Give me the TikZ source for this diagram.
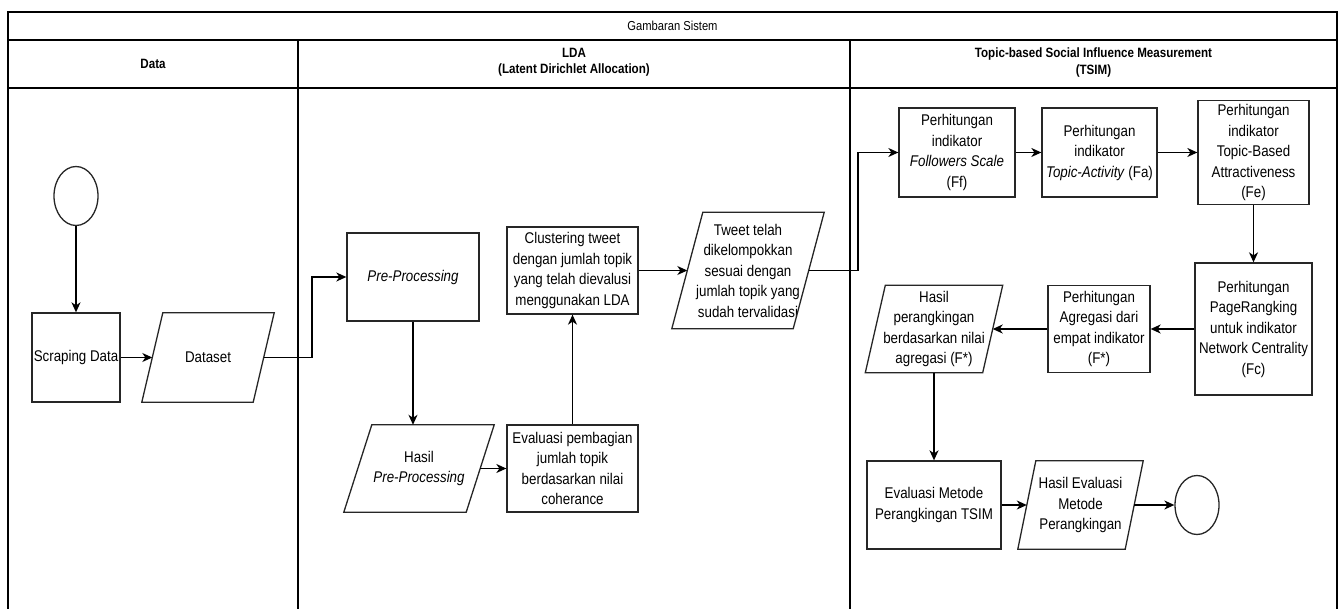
\documentclass[tikz,border=0pt]{standalone}
\usepackage{fontspec}
\setmainfont{Liberation Sans}[FakeStretch=0.86]
\usetikzlibrary{arrows.meta,shapes.geometric}
\newcommand{\drawpara}[2]{\draw[shapeline] ([xshift=-#2pt]#1.south west) -- ([xshift=#2pt]#1.north west) -- ([xshift=#2pt]#1.north east) -- ([xshift=-#2pt]#1.south east) -- cycle;}
\tikzset{
  shapeline/.style={line width=1.3pt, draw=black!85},
  procbox/.style={draw=black!85, line width=1.3pt, align=center, inner sep=1pt, font=\fontsize{15.5}{20.5}\selectfont},
  databox/.style={align=center, inner sep=1pt, font=\fontsize{15.5}{20.5}\selectfont},
  term/.style={ellipse, draw=black!85, line width=1.3pt, minimum width=44pt, minimum height=59pt, inner sep=0pt},
  arr/.style={line width=1.3pt, -{Stealth[length=10pt,width=9pt,inset=3pt]}},
  frame/.style={line width=2pt},
  thinframe/.style={line width=1.2pt},
  lanehead/.style={align=center, font=\fontsize{13.5}{16.5}\selectfont\bfseries},
  titletext/.style={font=\fontsize{13}{15}\selectfont}
}
\begin{document}
\begin{tikzpicture}[x=1pt,y=-1pt]
\useasboundingbox (0,0) rectangle (1343,609);
% frame
\draw[frame] (8,609) -- (8,12) -- (1337,12) -- (1337,609);
\draw[frame] (8,40) -- (1337,40);
\draw[thinframe] (8,88) -- (1337,88);
\draw[frame] (298,40) -- (298,609);
\draw[frame] (850,40) -- (850,609);
\node[titletext] (ttl) at (672.5,26) {Gambaran Sistem};
\node[lanehead] (hdata) at (153,64) {Data};
\node[lanehead] (hlda) at (574,62.5) {LDA\\(Latent Dirichlet Allocation)};
\node[lanehead] (htsim) at (1093.5,62.5) {Topic-based Social Influence Measurement\\(TSIM)};
% Data lane
\node[term] (start) at (76,196) {};
\node[procbox, minimum width=88pt, minimum height=89pt] (scrape) at (76,357.5) {Scraping Data};
\node[databox, minimum width=111pt, minimum height=89pt] (dataset) at (208,357.5) {Dataset};
\drawpara{dataset}{10.5}
% LDA lane
\node[procbox, minimum width=132pt, minimum height=88pt] (pre) at (413,277) {\textit{Pre-Processing}};
\node[databox, minimum width=122pt, minimum height=87pt] (hasilpre) at (419,468.5) {Hasil\\\textit{Pre-Processing}};
\drawpara{hasilpre}{14}
\node[procbox, minimum width=131pt, minimum height=87pt] (evalua) at (572.5,468.5) {Evaluasi pembagian\\jumlah topik\\berdasarkan nilai\\coherance};
\node[procbox, minimum width=131pt, minimum height=87pt] (cluster) at (572.5,270.5) {Clustering tweet\\dengan jumlah topik\\yang telah dievalusi\\menggunakan LDA};
\node[databox, minimum width=121pt, minimum height=116pt] (tweet) at (748,270.5) {Tweet telah\\dikelompokkan\\sesuai dengan\\jumlah topik yang\\sudah tervalidasi};
\drawpara{tweet}{15.5}
% TSIM lane
\node[procbox, minimum width=116pt, minimum height=89pt] (ff) at (957,152.5) {Perhitungan\\indikator\\\textit{Followers Scale}\\(Ff)};
\node[procbox, minimum width=115pt, minimum height=89pt] (fa) at (1099.5,152.5) {Perhitungan\\indikator\\\textit{Topic-Activity} (Fa)};
\node[procbox, minimum width=111pt, minimum height=104pt] (fe) at (1253.5,152.5) {Perhitungan\\indikator\\Topic-Based\\Attractiveness\\(Fe)};
\node[procbox, minimum width=117pt, minimum height=132pt] (fc) at (1253.5,329) {Perhitungan\\PageRangking\\untuk indikator\\Network Centrality\\(Fc)};
\node[procbox, minimum width=102pt, minimum height=87pt] (agg) at (1099,329) {Perhitungan\\Agregasi dari\\empat indikator\\(F*)};
\node[databox, minimum width=117pt, minimum height=87pt] (hrank) at (934,329) {Hasil\\perangkingan\\berdasarkan nilai\\agregasi (F*)};
\drawpara{hrank}{10}
\node[procbox, minimum width=134pt, minimum height=88pt] (evalm) at (934,505) {Evaluasi Metode\\Perangkingan TSIM};
\node[databox, minimum width=107pt, minimum height=88pt] (heval) at (1080.5,505) {Hasil Evaluasi\\Metode\\Perangkingan};
\drawpara{heval}{9}
\node[term] (endc) at (1197,505) {};
% connectors
\coordinate (j1) at (312,357.5);
\coordinate (j2) at (858,270.5);
\draw[arr] (start.south) -- (scrape.north);
\draw[arr] (scrape.east) -- (dataset.west);
\draw[arr] (dataset.east) -- (j1) |- (pre.west);
\draw[arr] (pre.south) -- (pre.south |- hasilpre.north);
\draw[arr] (hasilpre.east) -- (evalua.west);
\draw[arr] (evalua.north) -- (cluster.south);
\draw[arr] (cluster.east) -- (tweet.west);
\draw[arr] (tweet.east) -- (j2) |- (ff.west);
\draw[arr] (ff.east) -- (fa.west);
\draw[arr] (fa.east) -- (fe.west);
\draw[arr] (fe.south) -- (fc.north);
\draw[arr] (fc.west) -- (agg.east);
\draw[arr] (agg.west) -- (hrank.east);
\draw[arr] (hrank.south) -- (evalm.north);
\draw[arr] (evalm.east) -- (heval.west);
\draw[arr] (heval.east) -- (endc.west);
\end{tikzpicture}
\end{document}
